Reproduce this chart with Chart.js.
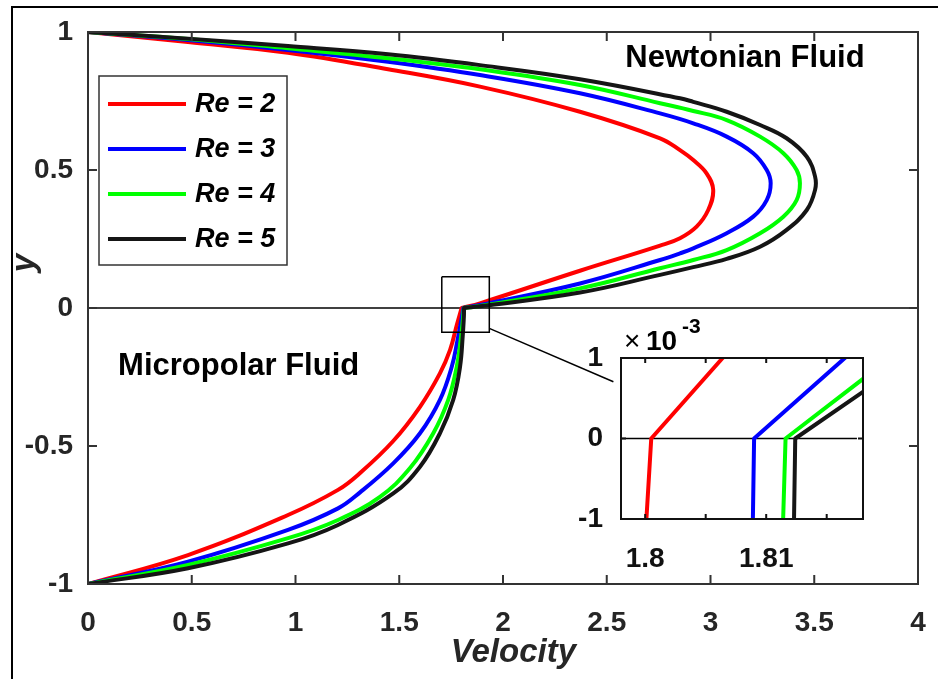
<!DOCTYPE html>
<html>
<head>
<meta charset="utf-8">
<script src="https://cdn.jsdelivr.net/npm/chart.js@4"></script>
<style>
  html, body { margin: 0; padding: 0; background: #fff; }
  #wrap { position: relative; width: 938px; height: 679px; }
  #main { position: absolute; left: 0; top: 0; }
  #inset { position: absolute; left: 560px; top: 300px; }
</style>
</head>
<body>
<div id="wrap">
  <canvas id="main" width="938" height="679"></canvas>
  <canvas id="inset" width="320" height="280"></canvas>
</div>
<script>
// series: velocity (x) against y, lower branch then upper branch
const seriesLabels = ['Re = 2', 'Re = 3', 'Re = 4', 'Re = 5'];
const seriesColors = ['#ff0000', '#0000ff', '#00ff00', '#151515'];

const re2Velocity = [0, 0.482, 0.964, 1.205, 1.311, 1.471, 1.600, 1.696, 1.745, 1.778, 1.8001, 1.8005, 1.8064, 1.889, 2.371, 2.757, 2.853, 2.933, 2.989, 3.013, 2.981, 2.917, 2.853, 2.757, 2.371, 1.889, 1.446, 0.964, 0.482, 0];
const re2Y = [-1, -0.895, -0.750, -0.659, -0.598, -0.482, -0.358, -0.237, -0.152, -0.060, -0.001, 0, 0.001, 0.017, 0.135, 0.226, 0.253, 0.295, 0.355, 0.428, 0.488, 0.536, 0.572, 0.615, 0.711, 0.802, 0.865, 0.925, 0.964, 1];

const re3Velocity = [0, 0.482, 0.964, 1.205, 1.311, 1.471, 1.600, 1.696, 1.753, 1.781, 1.800, 1.8089, 1.8090, 1.8165, 1.889, 2.371, 2.757, 2.853, 2.917, 3.078, 3.206, 3.271, 3.290, 3.271, 3.206, 3.078, 2.917, 2.757, 2.371, 1.889, 1.446, 0.964, 0.482, 0];
const re3Y = [-1, -0.919, -0.804, -0.726, -0.668, -0.563, -0.454, -0.333, -0.213, -0.116, -0.040, -0.001, 0, 0.001, 0.011, 0.089, 0.174, 0.198, 0.216, 0.271, 0.331, 0.391, 0.452, 0.500, 0.561, 0.621, 0.669, 0.705, 0.778, 0.844, 0.892, 0.935, 0.971, 1];

const re4Velocity = [0, 0.482, 0.964, 1.205, 1.407, 1.552, 1.664, 1.736, 1.777, 1.797, 1.807, 1.8114, 1.8116, 1.818, 1.889, 2.371, 2.757, 2.917, 3.078, 3.239, 3.351, 3.415, 3.431, 3.415, 3.351, 3.239, 3.078, 2.917, 2.757, 2.371, 1.889, 1.446, 0.964, 0.482, 0];
const re4Y = [-1, -0.931, -0.834, -0.768, -0.684, -0.580, -0.454, -0.333, -0.213, -0.110, -0.040, -0.001, 0, 0.00074, 0.007, 0.071, 0.144, 0.174, 0.210, 0.271, 0.331, 0.391, 0.452, 0.500, 0.561, 0.621, 0.681, 0.714, 0.742, 0.808, 0.865, 0.905, 0.941, 0.975, 1];

const re5Velocity = [0, 0.482, 0.964, 1.205, 1.471, 1.600, 1.696, 1.760, 1.793, 1.806, 1.8115, 1.8123, 1.8124, 1.818, 1.889, 2.371, 2.757, 2.917, 3.078, 3.239, 3.367, 3.464, 3.504, 3.504, 3.464, 3.367, 3.239, 3.078, 2.917, 2.853, 2.371, 1.889, 1.446, 0.964, 0.482, 0];
const re5Y = [-1, -0.943, -0.853, -0.786, -0.672, -0.575, -0.454, -0.333, -0.213, -0.100, -0.030, -0.001, 0, 0.00058, 0.006, 0.056, 0.120, 0.148, 0.178, 0.222, 0.283, 0.355, 0.428, 0.476, 0.548, 0.615, 0.663, 0.711, 0.747, 0.760, 0.829, 0.880, 0.919, 0.949, 0.976, 1];

// y = 0 line, zoom box and its connector (data units)
const zeroVelocity = [0, 4];
const zeroY = [0, 0];
const boxVelocity = [1.705, 1.934, 1.934, 1.705, 1.705];
const boxY = [0.113, 0.113, -0.088, -0.088, 0.113];
const connectorVelocity = [1.934, 2.532];
const connectorY = [-0.074, -0.267];
const insetZeroVelocity = [1.798, 1.8175];
const insetZeroY = [0, 0];

// ticks
const velocityTicks = [0, 0.5, 1, 1.5, 2, 2.5, 3, 3.5, 4];
const yTicks = [-1, -0.5, 0, 0.5, 1];
const insetVelocityTicks = [1.8, 1.805, 1.81, 1.815];
const insetVelocityLabels = ['1.8', '', '1.81', ''];
const insetYTicks = [-0.001, 0, 0.001];
const insetYLabels = ['-1', '0', '1'];

const FONT = "'Liberation Sans', Arial, Helvetica, sans-serif";
const GREY = '#262626';
Chart.defaults.font.family = FONT;

const curves = [[re2Velocity, re2Y], [re3Velocity, re3Y], [re4Velocity, re4Y], [re5Velocity, re5Y]];
const points = (xs, ys) => xs.map((v, i) => ({x: v, y: ys[i]}));

function curveDatasets(tension, clip) {
  return curves.map((c, i) => ({
    label: seriesLabels[i],
    data: points(c[0], c[1]),
    borderColor: seriesColors[i],
    borderWidth: 4,
    borderJoinStyle: 'round',
    tension: tension,
    clip: clip,
    pointRadius: 0,
    order: 4 - i
  }));
}

function plainLine(xs, ys, width, order) {
  return {data: points(xs, ys), borderColor: '#000', borderWidth: width, tension: 0, pointRadius: 0, order: order};
}

// MATLAB-like box with inward ticks
function axesBox(id, color, width, tickLen) {
  return {
    id: id,
    afterDatasetsDraw(chart) {
      const {ctx, chartArea: a, scales: {x, y}} = chart;
      ctx.save();
      ctx.strokeStyle = color;
      ctx.lineWidth = width;
      ctx.beginPath();
      x.ticks.forEach(t => {
        const px = x.getPixelForValue(t.value);
        ctx.moveTo(px, a.bottom); ctx.lineTo(px, a.bottom - tickLen);
        ctx.moveTo(px, a.top); ctx.lineTo(px, a.top + tickLen);
      });
      y.ticks.forEach(t => {
        const py = y.getPixelForValue(t.value);
        ctx.moveTo(a.left, py); ctx.lineTo(a.left + tickLen, py);
        ctx.moveTo(a.right, py); ctx.lineTo(a.right - tickLen, py);
      });
      ctx.stroke();
      ctx.strokeRect(a.left, a.top, a.right - a.left, a.bottom - a.top);
      ctx.restore();
    }
  };
}

const mainDecor = {
  id: 'mainDecor',
  beforeDraw(chart) {
    const ctx = chart.ctx;
    ctx.save();
    ctx.fillStyle = '#fff';
    ctx.fillRect(0, 0, chart.width, chart.height);
    ctx.strokeStyle = '#000';
    ctx.lineWidth = 2;
    ctx.beginPath();
    ctx.moveTo(12, chart.height);
    ctx.lineTo(12, 7);
    ctx.lineTo(chart.width, 7);
    ctx.stroke();
    ctx.restore();
  },
  afterDraw(chart) {
    const {ctx, chartArea: a, scales: {x, y}} = chart;
    ctx.save();
    // region labels
    ctx.fillStyle = '#000';
    ctx.font = 'bold 31px ' + FONT;
    ctx.textAlign = 'center';
    ctx.textBaseline = 'middle';
    ctx.fillText('Newtonian Fluid', x.getPixelForValue(3.166), y.getPixelForValue(0.904));
    ctx.fillText('Micropolar Fluid', x.getPixelForValue(0.726), y.getPixelForValue(-0.21));

    // axis titles
    ctx.fillStyle = GREY;
    ctx.font = 'italic bold 33px ' + FONT;
    ctx.fillText('Velocity', x.getPixelForValue(2.05), 653);
    ctx.save();
    ctx.translate(34, y.getPixelForValue(0.163));
    ctx.rotate(-Math.PI / 2);
    ctx.textBaseline = 'alphabetic';
    ctx.fillText('y', 0, 0);
    ctx.restore();

    // legend
    const lx = a.left + 11, ly = a.top + 44;
    ctx.fillStyle = '#fff';
    ctx.fillRect(lx, ly, 188, 189);
    ctx.strokeStyle = '#333';
    ctx.lineWidth = 1.5;
    ctx.strokeRect(lx, ly, 188, 189);
    ctx.font = 'italic bold 27px ' + FONT;
    ctx.textAlign = 'left';
    ctx.textBaseline = 'middle';
    seriesLabels.forEach((lab, i) => {
      const cy = ly + 28 + i * 45;
      ctx.strokeStyle = seriesColors[i];
      ctx.lineWidth = 4;
      ctx.beginPath();
      ctx.moveTo(lx + 9, cy);
      ctx.lineTo(lx + 87, cy);
      ctx.stroke();
      ctx.fillStyle = '#000';
      ctx.fillText(lab, lx + 96, cy + 1);
    });
    ctx.restore();
  }
};

const insetDecor = {
  id: 'insetDecor',
  afterDraw(chart) {
    const {ctx, chartArea: a} = chart;
    ctx.save();
    ctx.fillStyle = '#000';
    ctx.textAlign = 'left';
    ctx.textBaseline = 'alphabetic';
    ctx.font = '28px ' + FONT;
    ctx.fillText('\u00d7', a.left + 3, a.top - 8);
    ctx.font = 'bold 28px ' + FONT;
    ctx.fillText('10', a.left + 25, a.top - 8);
    ctx.font = 'bold 21px ' + FONT;
    ctx.fillText('-3', a.left + 61, a.top - 25);
    ctx.restore();
  }
};

const mainDatasets = curveDatasets(0.4, undefined);
mainDatasets.push(plainLine(zeroVelocity, zeroY, 1.5, 10));
mainDatasets.push(plainLine(boxVelocity, boxY, 1.5, 0));
mainDatasets.push(plainLine(connectorVelocity, connectorY, 1.5, 0));

new Chart(document.getElementById('main'), {
  type: 'line',
  data: {datasets: mainDatasets},
  options: {
    responsive: false,
    animation: false,
    devicePixelRatio: 1,
    events: [],
    layout: {padding: {left: 0, top: 32, right: 20, bottom: 0}},
    plugins: {legend: {display: false}, tooltip: {enabled: false}},
    scales: {
      x: {
        type: 'linear', min: 0, max: 4,
        afterBuildTicks: s => { s.ticks = velocityTicks.map(v => ({value: v})); },
        afterFit: s => { s.height = 95; s.paddingLeft = 0; s.paddingRight = 0; },
        grid: {display: false, drawTicks: false},
        border: {display: false},
        ticks: {autoSkip: false, maxRotation: 0, padding: 22, color: GREY,
          font: {size: 28, weight: 'bold'}, callback: v => String(v)}
      },
      y: {
        type: 'linear', min: -1, max: 1,
        afterBuildTicks: s => { s.ticks = yTicks.map(v => ({value: v})); },
        afterFit: s => { s.width = 88; s.paddingTop = 0; s.paddingBottom = 0; },
        grid: {display: false, drawTicks: false},
        border: {display: false},
        ticks: {autoSkip: false, padding: 15, color: GREY,
          font: {size: 28, weight: 'bold'}, callback: v => String(v)}
      }
    }
  },
  plugins: [mainDecor, axesBox('mainBox', '#333', 2, 9)]
});

const insetDatasets = curveDatasets(0, 0);
insetDatasets.push(plainLine(insetZeroVelocity, insetZeroY, 1.5, 10));

new Chart(document.getElementById('inset'), {
  type: 'scatter',
  data: {datasets: insetDatasets},
  options: {
    responsive: false,
    animation: false,
    devicePixelRatio: 1,
    events: [],
    showLine: true,
    elements: {point: {radius: 0}},
    layout: {padding: {left: 0, top: 58, right: 17, bottom: 0}},
    plugins: {legend: {display: false}, tooltip: {enabled: false}},
    scales: {
      x: {
        type: 'linear', min: 1.798, max: 1.818,
        afterBuildTicks: s => { s.ticks = insetVelocityTicks.map(v => ({value: v})); },
        afterFit: s => { s.height = 61; s.paddingLeft = 0; s.paddingRight = 0; },
        grid: {display: false, drawTicks: false},
        border: {display: false},
        ticks: {autoSkip: false, maxRotation: 0, padding: 23, color: '#111',
          font: {size: 28, weight: 'bold'}, callback: (v, i) => insetVelocityLabels[i]}
      },
      y: {
        type: 'linear', min: -0.001, max: 0.001,
        afterBuildTicks: s => { s.ticks = insetYTicks.map(v => ({value: v})); },
        afterFit: s => { s.width = 61; s.paddingTop = 0; s.paddingBottom = 0; },
        grid: {display: false, drawTicks: false},
        border: {display: false},
        ticks: {autoSkip: false, padding: 18, color: '#111',
          font: {size: 28, weight: 'bold'}, callback: (v, i) => insetYLabels[i]}
      }
    }
  },
  plugins: [insetDecor, axesBox('insetBox', '#111', 2, 5)]
});
</script>
</body>
</html>
